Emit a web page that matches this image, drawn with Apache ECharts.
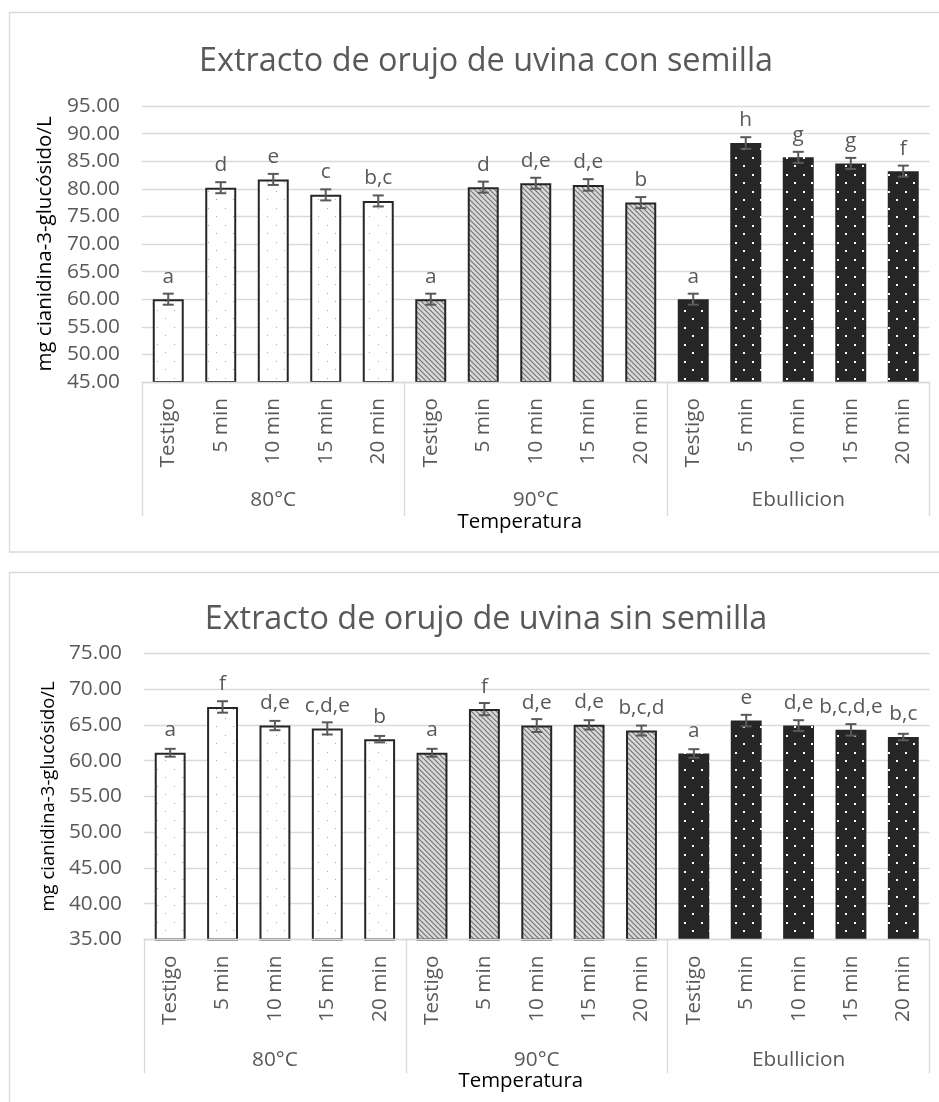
<!DOCTYPE html>
<html><head><meta charset="utf-8">
<script src="https://cdn.jsdelivr.net/npm/echarts@6/dist/echarts.min.js"></script>
<style>html,body{margin:0;padding:0;background:#fff}#c{width:939px;height:1102px}</style>
</head><body><div id="c"></div>
<script>
// ---------- data ----------
const times = ['Testigo', '5 min', '10 min', '15 min', '20 min'];
const groups = ['80°C', '90°C', 'Ebullicion'];
const axisTitleX = 'Temperatura';
const axisTitleY = 'mg cianidina-3-glucósido/L';

const titleCon = 'Extracto de orujo de uvina con semilla';
const con80 = [60.0, 80.2, 81.7, 78.9, 77.8];
const con90 = [60.0, 80.3, 81.0, 80.7, 77.5];
const conEb = [60.0, 88.3, 85.7, 84.6, 83.2];
const conErr80 = [1.0, 1.0, 1.0, 1.0, 1.0];
const conErr90 = [1.0, 1.0, 1.0, 1.05, 1.0];
const conErrEb = [1.0, 1.05, 1.0, 1.0, 1.0];
const conLet80 = ['a', 'd', 'e', 'c', 'b,c'];
const conLet90 = ['a', 'd', 'd,e', 'd,e', 'b'];
const conLetEb = ['a', 'h', 'g', 'g', 'f'];
const conYMin = 45, conYMax = 95;

const titleSin = 'Extracto de orujo de uvina sin semilla';
const sin80 = [61.1, 67.5, 64.9, 64.5, 63.0];
const sin90 = [61.1, 67.2, 64.9, 65.0, 64.2];
const sinEb = [61.0, 65.6, 64.9, 64.3, 63.3];
const sinErr80 = [0.55, 0.8, 0.65, 0.85, 0.45];
const sinErr90 = [0.55, 0.85, 0.9, 0.65, 0.7];
const sinErrEb = [0.6, 0.8, 0.75, 0.8, 0.45];
const sinLet80 = ['a', 'f', 'd,e', 'c,d,e', 'b'];
const sinLet90 = ['a', 'f', 'd,e', 'd,e', 'b,c,d'];
const sinLetEb = ['a', 'e', 'd,e', 'b,c,d,e', 'b,c'];
const sinYMin = 35, sinYMax = 75;
const yStep = 5;

// ---------- styles ----------
const FONT = 'Open Sans';
const FS = 20.8;
const GREY = '#595959';
const LINE = '#d9d9d9';

function tile(w, h, draw) {
  const c = document.createElement('canvas');
  c.width = w; c.height = h;
  draw(c.getContext('2d'));
  return c;
}
const patDots = tile(17, 17, g => {
  g.fillStyle = '#ffffff'; g.fillRect(0, 0, 17, 17);
  g.fillStyle = '#a6a6a6';
  g.fillRect(4, 4, 1, 1); g.fillRect(12, 12, 1, 1);
});
const patHatch = tile(5, 5, g => {
  g.fillStyle = '#d9d9d9'; g.fillRect(0, 0, 5, 5);
  g.strokeStyle = '#727272'; g.lineWidth = 1.1;
  for (let k = -5; k <= 5; k += 5) {
    g.beginPath(); g.moveTo(k - 1, -1); g.lineTo(k + 6, 6); g.stroke();
  }
});
const patDark = tile(17, 17, g => {
  g.fillStyle = '#262626'; g.fillRect(0, 0, 17, 17);
  g.fillStyle = '#ffffff';
  g.fillRect(4, 4, 2, 2); g.fillRect(12, 12, 2, 2);
});
const groupStyles = [
  { color: { image: patDots, repeat: 'repeat' }, borderColor: '#262626', borderWidth: 2 },
  { color: { image: patHatch, repeat: 'repeat' }, borderColor: '#262626', borderWidth: 2 },
  { color: { image: patDark, repeat: 'repeat' }, borderWidth: 0 }
];

const categories = [];
groups.forEach(() => times.forEach(t => categories.push(t)));

function build(i, title, titleTop, vals, errs, lets, yMin, yMax, grid, nameGapY, nameFont, groupMargin, titleGap) {
  const flatVals = [].concat(...vals);
  const flatErrs = [].concat(...errs);
  const flatLets = [].concat(...lets);
  const barData = flatVals.map((v, k) => ({ value: v, itemStyle: groupStyles[Math.floor(k / times.length)] }));
  const errData = flatVals.map((v, k) => [k, v, flatErrs[k]]);
  return {
    title: {
      text: title, left: 481, top: titleTop, textAlign: 'center',
      textStyle: { fontFamily: FONT, fontSize: 32.4, fontWeight: 'normal', color: GREY }
    },
    grid: Object.assign({ containLabel: false }, grid),
    xAxis: [
      {
        type: 'category', gridIndex: i, data: categories, position: 'bottom', z: 3,
        axisLine: { show: true, lineStyle: { color: LINE, width: 1.3 } },
        axisTick: { show: false },
        axisLabel: { interval: 0, rotate: 90, margin: 16, color: GREY, fontFamily: FONT, fontSize: FS },
        splitLine: { show: false }
      },
      {
        type: 'category', gridIndex: i, data: groups, position: 'bottom',
        axisLine: { show: false },
        axisTick: { show: true, length: 134, lineStyle: { color: LINE, width: 1.3 } },
        axisLabel: { interval: 0, margin: groupMargin, color: GREY, fontFamily: FONT, fontSize: FS },
        name: axisTitleX, nameLocation: 'middle', nameGap: titleGap,
        nameTextStyle: { color: '#000', fontFamily: FONT, fontSize: 20.4, padding: [0, 32, 0, 0] }
      }
    ],
    yAxis: {
      type: 'value', gridIndex: i, min: yMin, max: yMax, interval: yStep,
      axisLine: { show: false }, axisTick: { show: false },
      axisLabel: { margin: 22, color: GREY, fontFamily: FONT, fontSize: FS, formatter: v => v.toFixed(2) },
      splitLine: { show: true, lineStyle: { color: LINE, width: 1.3 } },
      name: axisTitleY, nameLocation: 'middle', nameGap: nameGapY,
      nameTextStyle: { color: '#000', fontFamily: FONT, fontSize: nameFont }
    },
    series: [
      {
        type: 'bar', xAxisIndex: 2 * i, yAxisIndex: i, data: barData,
        barCategoryGap: '41%',
        label: {
          show: true, position: 'top', distance: 12, color: GREY, fontFamily: FONT, fontSize: FS,
          formatter: p => flatLets[p.dataIndex]
        }
      },
      {
        type: 'custom', xAxisIndex: 2 * i, yAxisIndex: i, data: errData, z: 5,
        renderItem: (params, api) => {
          const x = api.value(0), v = api.value(1), e = api.value(2);
          const hi = api.coord([x, v + e]), lo = api.coord([x, v - e]);
          const s = { stroke: GREY, lineWidth: 2 };
          const cw = 5.5;
          return {
            type: 'group', children: [
              { type: 'line', shape: { x1: hi[0], y1: hi[1], x2: lo[0], y2: lo[1] }, style: s },
              { type: 'line', shape: { x1: hi[0] - cw, y1: hi[1], x2: hi[0] + cw, y2: hi[1] }, style: s },
              { type: 'line', shape: { x1: lo[0] - cw, y1: lo[1], x2: lo[0] + cw, y2: lo[1] }, style: s }
            ]
          };
        }
      }
    ]
  };
}

const a = build(0, titleCon, 41, [con80, con90, conEb], [conErr80, conErr90, conErrEb],
  [conLet80, conLet90, conLetEb], conYMin, conYMax,
  { left: 142, top: 106, width: 787.5, height: 276 }, 83, 20.5, 108, 129);
const b = build(1, titleSin, 599, [sin80, sin90, sinEb], [sinErr80, sinErr90, sinErrEb],
  [sinLet80, sinLet90, sinLetEb], sinYMin, sinYMax,
  { left: 144, top: 653.3, width: 785.5, height: 286.2 }, 84, 18.5, 110, 126);

const option = {
  backgroundColor: '#ffffff',
  animation: false,
  title: [a.title, b.title],
  grid: [a.grid, b.grid],
  xAxis: [...a.xAxis, ...b.xAxis],
  yAxis: [a.yAxis, b.yAxis],
  series: [...a.series, ...b.series],
  graphic: [
    { type: 'rect', silent: true, z: -10, shape: { x: 9.5, y: 12.5, width: 1000, height: 539.5 }, style: { fill: 'none', stroke: LINE, lineWidth: 1.3 } },
    { type: 'rect', silent: true, z: -10, shape: { x: 9.5, y: 572.5, width: 1000, height: 600 }, style: { fill: 'none', stroke: LINE, lineWidth: 1.3 } }
  ]
};
const chart = echarts.init(document.getElementById('c'), null, { renderer: 'canvas' });
chart.setOption(option);
</script>
</body></html>
